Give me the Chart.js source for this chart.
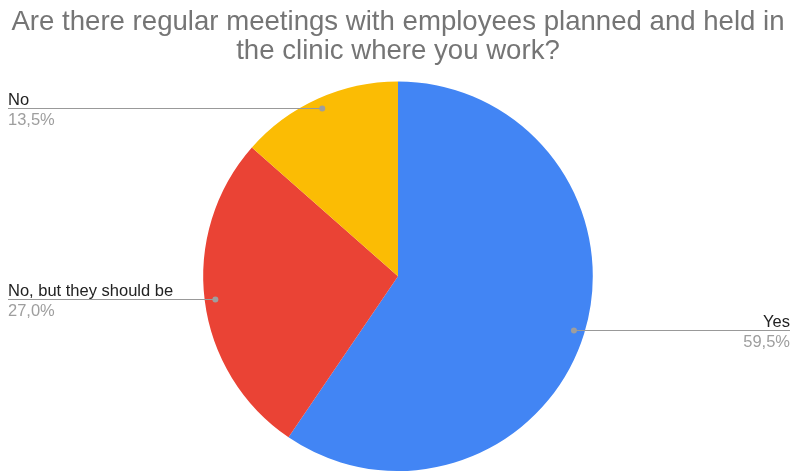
<!DOCTYPE html>
<html>
<head>
<meta charset="utf-8">
<script src="https://cdn.jsdelivr.net/npm/chart.js@4/dist/chart.umd.min.js"></script>
<style>
  html, body { margin: 0; padding: 0; background: #fff; }
  #wrap { width: 791px; height: 471px; }
</style>
</head>
<body>
<div id="wrap"><canvas id="pieChart"></canvas></div>
<script>
const titleLines = ['Are there regular meetings with employees planned and held in', 'the clinic where you work?'];
const categories = ['Yes', 'No, but they should be', 'No'];
const shares = [59.5, 27.0, 13.5];
const shareLabels = ['59,5%', '27,0%', '13,5%'];
const sliceColors = ['#4285F4', '#EA4335', '#FBBC04'];

// leader lines with name above and percent below
const leaderLabels = {
    id: 'leaderLabels',
    afterDatasetsDraw(chart) {
        const ctx = chart.ctx;
        const meta = chart.getDatasetMeta(0);
        ctx.save();
        meta.data.forEach((arc, i) => {
            const mid = (arc.startAngle + arc.endAngle) / 2;
            const r = arc.outerRadius * 0.945;
            const px = arc.x + Math.cos(mid) * r;
            const py = Math.round(arc.y + Math.sin(mid) * r) + 0.5;
            const right = Math.cos(mid) > 0;
            const endX = right ? chart.width - 1 : 8;

            ctx.strokeStyle = '#999999';
            ctx.lineWidth = 1;
            ctx.beginPath();
            ctx.moveTo(px, py);
            ctx.lineTo(endX, py);
            ctx.stroke();

            ctx.fillStyle = '#9e9e9e';
            ctx.beginPath();
            ctx.arc(px, py, 3, 0, Math.PI * 2);
            ctx.fill();

            ctx.font = '16.5px "Liberation Sans", Arial, sans-serif';
            ctx.textAlign = right ? 'right' : 'left';
            ctx.textBaseline = 'alphabetic';
            ctx.fillStyle = '#222222';
            ctx.fillText(categories[i], endX, py - 4);
            ctx.fillStyle = '#9e9e9e';
            ctx.fillText(shareLabels[i], endX, py + 16);
        });
        ctx.restore();
    }
};

new Chart(document.getElementById('pieChart'), {
    type: 'pie',
    data: {
        labels: categories,
        datasets: [{
            data: shares,
            backgroundColor: sliceColors,
            borderWidth: 0
        }]
    },
    options: {
        responsive: true,
        maintainAspectRatio: false,
        animation: false,
        layout: { padding: { left: 5 } },
        plugins: {
            legend: { display: false },
            title: {
                display: true,
                text: titleLines,
                color: '#757575',
                font: { family: '"Liberation Sans", Arial, sans-serif', size: 27.6, weight: 'normal', lineHeight: 1.04 },
                padding: { top: 8, bottom: 16 }
            }
        }
    },
    plugins: [leaderLabels]
});
</script>
</body>
</html>
